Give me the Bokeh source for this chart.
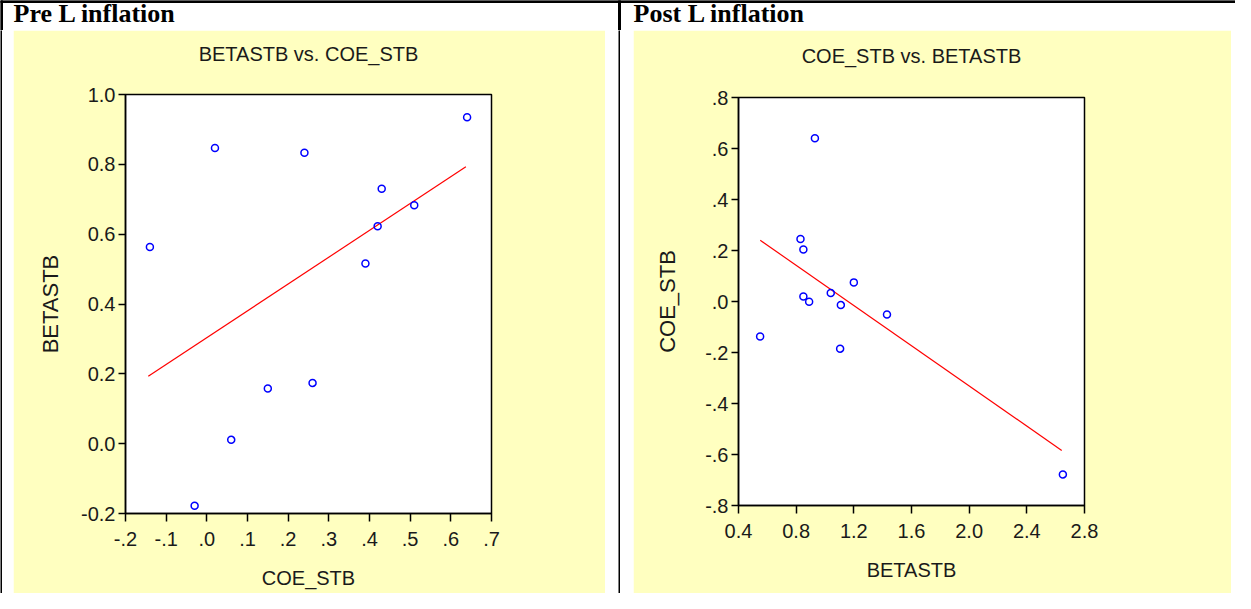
from bokeh.plotting import figure
from bokeh.layouts import row, column
from bokeh.models import Range1d, FixedTicker, LinearAxis, Spacer
from bokeh.core.properties import value
from bokeh.embed import file_html
from bokeh.resources import INLINE

# ---------------- data ----------------
# Pre L inflation: BETASTB (y) vs COE_STB (x)
pre_coe = [-0.14, 0.02, 0.24, 0.43, 0.42, 0.51, 0.64, 0.39, 0.15, 0.26, 0.06, -0.03]
pre_beta = [0.563, 0.847, 0.833, 0.730, 0.623, 0.683, 0.935, 0.516, 0.158, 0.174, 0.011, -0.178]
pre_fit_x = [-0.144, 0.637]
pre_fit_y = [0.193, 0.793]

# Post L inflation: COE_STB (y) vs BETASTB (x)
post_beta = [0.93, 0.83, 0.85, 1.20, 1.04, 0.85, 0.89, 1.11, 1.43, 0.55, 1.105, 2.65]
post_coe = [0.640, 0.245, 0.204, 0.075, 0.033, 0.020, -0.001, -0.014, -0.051, -0.137, -0.185, -0.678]
post_fit_x = [0.551, 2.642]
post_fit_y = [0.240, -0.584]

pre_xticks = [-0.2, -0.1, 0.0, 0.1, 0.2, 0.3, 0.4, 0.5, 0.6, 0.7]
pre_xlabels = ["-.2", "-.1", ".0", ".1", ".2", ".3", ".4", ".5", ".6", ".7"]
pre_yticks = [-0.2, 0.0, 0.2, 0.4, 0.6, 0.8, 1.0]
pre_ylabels = ["-0.2", "0.0", "0.2", "0.4", "0.6", "0.8", "1.0"]

post_xticks = [0.4, 0.8, 1.2, 1.6, 2.0, 2.4, 2.8]
post_xlabels = ["0.4", "0.8", "1.2", "1.6", "2.0", "2.4", "2.8"]
post_yticks = [-0.8, -0.6, -0.4, -0.2, 0.0, 0.2, 0.4, 0.6, 0.8]
post_ylabels = ["-.8", "-.6", "-.4", "-.2", ".0", ".2", ".4", ".6", ".8"]

headings = ["Pre L inflation", "Post L inflation"]
titles = ["BETASTB vs. COE_STB", "COE_STB vs. BETASTB"]

# ---------------- style ----------------
YELLOW = "#FFFFC0"
SANS = "Liberation Sans"
TXT = "#1a1a1a"
PANEL_H = 563


def solid(width, height, color):
    p = figure(width=width, height=height, x_range=Range1d(0, 1), y_range=Range1d(0, 1),
               output_backend="svg", toolbar_location=None, min_border=0,
               x_axis_location=None, y_axis_location=None, title=None)
    p.grid.visible = False
    p.outline_line_color = None
    p.background_fill_color = color
    p.border_fill_color = color
    return p


def chart(width, xr, yr, borders, xticks, xlabels, yticks, ylabels, title, xlabel, ylabel,
          title_standoff, ylabel_standoff):
    p = figure(width=width, height=PANEL_H, x_range=Range1d(*xr), y_range=Range1d(*yr),
               output_backend="svg", toolbar_location=None, title=None,
               min_border_left=borders[0], min_border_right=borders[1],
               min_border_top=borders[2], min_border_bottom=borders[3])
    p.grid.visible = False
    p.background_fill_color = "white"
    p.border_fill_color = YELLOW
    p.outline_line_color = "black"
    p.outline_line_width = 1.5
    p.outline_line_alpha = 1.0

    p.xaxis.ticker = FixedTicker(ticks=xticks)
    p.xaxis.major_label_overrides = dict(zip(xticks, xlabels))
    p.yaxis.ticker = FixedTicker(ticks=yticks)
    p.yaxis.major_label_overrides = dict(zip(yticks, ylabels))
    for ax in (p.xaxis, p.yaxis):
        ax.minor_tick_line_color = None
        ax.major_tick_in = 0
        ax.axis_line_color = "black"
        ax.axis_line_width = 1.5
        ax.major_tick_line_color = "black"
        ax.major_tick_line_width = 1.5
        ax.major_label_text_font = SANS
        ax.major_label_text_font_size = "20px"
        ax.major_label_text_color = TXT
        ax.axis_label_text_font_style = "normal"
        ax.axis_label_text_color = TXT
        ax.axis_label_text_font = SANS
    p.xaxis.major_tick_out = 8
    p.yaxis.major_tick_out = 7
    p.xaxis.major_label_standoff = 10
    p.yaxis.major_label_standoff = 3
    p.xaxis.axis_label = xlabel
    p.xaxis.axis_label_text_font_size = "20px"
    p.xaxis.axis_label_standoff = 18
    p.yaxis.axis_label = ylabel
    p.yaxis.axis_label_text_font_size = "22px"
    p.yaxis.axis_label_standoff = ylabel_standoff

    # chart title: label of a tick-less axis above the frame
    top = LinearAxis(ticker=FixedTicker(ticks=[]), axis_label=title,
                     axis_line_color=None, major_tick_line_color=None,
                     minor_tick_line_color=None, major_tick_out=0, minor_tick_out=0,
                     major_label_standoff=0, axis_label_standoff=title_standoff,
                     axis_label_text_font=SANS, axis_label_text_font_size="20px",
                     axis_label_text_font_style="normal", axis_label_text_color=TXT)
    p.add_layout(top, "above")
    return p


# ---------------- heading band ----------------
head = figure(width=1235, height=30, x_range=Range1d(0, 1235), y_range=Range1d(30, 0),
              output_backend="svg", toolbar_location=None, min_border=0,
              x_axis_location=None, y_axis_location=None, title=None)
head.grid.visible = False
head.outline_line_color = None
head.background_fill_color = "white"
head.border_fill_color = "white"
head.quad(left=[0], right=[1235], top=[0], bottom=[2], color="black")
head.quad(left=[0, 618], right=[2, 620], top=[0, 0], bottom=[30, 30], color="black")
head.text(x=[13, 633], y=[12.5, 12.5], text=headings, text_font=value("Liberation Serif"),
          text_font_style=value("bold"), text_font_size=value("26px"),
          text_baseline=value("alphabetic"), text_align=value("left"),
          text_color="black")

# ---------------- charts ----------------
left = chart(592, (-0.2, 0.7), (-0.2, 1.0), (112, 114, 64, 80),
             pre_xticks, pre_xlabels, pre_yticks, pre_ylabels,
             titles[0], "COE_STB", "BETASTB", 30, 15)
left.line(pre_fit_x, pre_fit_y, line_color="#FF0000", line_width=1.2)
left.scatter(pre_coe, pre_beta, marker="circle", size=7, fill_color=None,
             line_color="#0000FF", line_width=1.5)

right = chart(598, (0.4, 2.8), (-0.8, 0.8), (105, 147, 67, 88),
              post_xticks, post_xlabels, post_yticks, post_ylabels,
              titles[1], "BETASTB", "COE_STB", 31, 22)
right.line(post_fit_x, post_fit_y, line_color="#FF0000", line_width=1.2)
right.scatter(post_beta, post_coe, marker="circle", size=7, fill_color=None,
              line_color="#0000FF", line_width=1.5)

body = row(
    solid(2, PANEL_H, "black"), Spacer(width=11, height=PANEL_H),
    column(left),
    Spacer(width=13, height=PANEL_H), solid(2, PANEL_H, "black"), Spacer(width=13, height=PANEL_H),
    column(right),
)
layout = column(head, body)

open("out.html", "w").write(file_html(layout, INLINE))
